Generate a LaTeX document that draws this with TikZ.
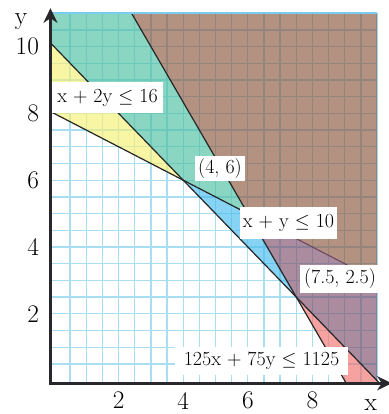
\documentclass[tikz,border=0pt]{standalone}
\usepackage{amsmath, amssymb}
\usepackage{tikz}
\usetikzlibrary{arrows.meta}
\definecolor{gridc}{RGB}{169,222,242}
\definecolor{topc}{RGB}{120,205,240}
\definecolor{axisc}{RGB}{40,40,44}
\definecolor{yelc}{RGB}{244,240,117}
\definecolor{bluc}{RGB}{69,187,237}
\definecolor{redc}{RGB}{241,112,109}
\definecolor{tealc}{RGB}{75,192,161}
\definecolor{purc}{RGB}{124,78,106}
\definecolor{brnc}{RGB}{138,87,63}
\definecolor{edgec}{RGB}{110,70,100}

\begin{document}
\begin{tikzpicture}[x=24.225pt,y=25.05pt,
    gridline/.style={gridc,line width=1pt},
    region/.style={opacity=0.65},
    bound/.style={black!85,line width=0.9pt},
    axis/.style={axisc,line width=2.2pt,-{Stealth[length=11pt,width=10.5pt,inset=3.5pt]}},
    tick/.style={inner sep=0pt,font=\fontsize{19}{21}\selectfont},
    lbl/.style={fill=white,inner sep=0pt,font=\fontsize{15}{17}\selectfont}]
			\useasboundingbox (-1.672,-1.0) rectangle (10.341,11.395);
			% corner points
			\coordinate (A) at (4,6);
			\coordinate (B) at (7.5,2.5);
			\coordinate (C) at (6,5);
			\coordinate (L1a) at (-0.11,10.11);
			\coordinate (L1b) at (10.08,-0.08);
			\coordinate (L2a) at (-0.11,8.055);
			\coordinate (L2b) at (10,3);
			\coordinate (L3a) at (2.4,11);
			\coordinate (L3b) at (9.048,-0.08);
			% grid
			\foreach \i in {1,...,20} \draw[gridline] (\i/2,-0.08) -- (\i/2,11);
			\foreach \j in {1,...,21} \draw[gridline] (-0.11,\j/2) -- (10,\j/2);
			% shaded half-planes
			\fill[yelc,region] (L2a) -- (A) -- (L1a) -- cycle;
			\fill[bluc,region] (A) -- (B) -- (C) -- cycle;
			\fill[redc,region] (B) -- (L3b) -- (10,-0.08) -- (10,0) -- cycle;
			\fill[tealc,region] (L1a) -- (A) -- (C) -- (L3a) -- (-0.11,11) -- cycle;
			\fill[purc,region] (C) -- (B) -- (10,0) -- (L2b) -- cycle;
			\fill[brnc,region] (L3a) -- (C) -- (L2b) -- (10,11) -- cycle;
			% boundary lines
			\draw[bound] (L1a) -- (L1b);
			\draw[bound] (L2a) -- (C);
			\draw[edgec,line width=0.8pt] (C) -- (L2b);
			\draw[bound] (L3a) -- (L3b);
			\draw[topc,line width=1.6pt] (-0.11,11) -- (10,11);
			% axes
			\draw[axis] (-0.11,-0.13) -- (-0.11,11.15);
			\draw[axis] (-0.16,-0.08) -- (10.46,-0.08);
			\foreach \v in {2,4,6,8,10} \node[tick,anchor=east] (ty\v) at (-0.46,\v) {\v};
			\foreach \v in {2,4,6,8} \node[tick,anchor=north] (tx\v) at (\v,-0.34) {\v};
			\node[tick] (ylab) at (-1.02,10.74) {y};
			\node[tick] (xlab) at (9.81,-0.73) {x};
			% labels
			\node[lbl,minimum width=83pt,minimum height=23pt] (c2) at (1.656,8.476) {x + 2y $\leq$ 16};
			\node[lbl,minimum width=37.5pt,minimum height=18.75pt] (pA) at (5.139,6.35) {(4, 6)};
			\node[lbl,minimum width=72.75pt,minimum height=24pt] (c1) at (7.26,4.719) {x + y $\leq$ 10};
			\node[lbl,minimum width=60pt,minimum height=21pt] (pB) at (8.854,3.042) {(7.5, 2.5)};
			\node[lbl,minimum width=129.75pt,minimum height=21pt] (c3) at (6.424,0.587) {125x + 75y $\leq$ 1125};
		\end{tikzpicture}
\end{document}
